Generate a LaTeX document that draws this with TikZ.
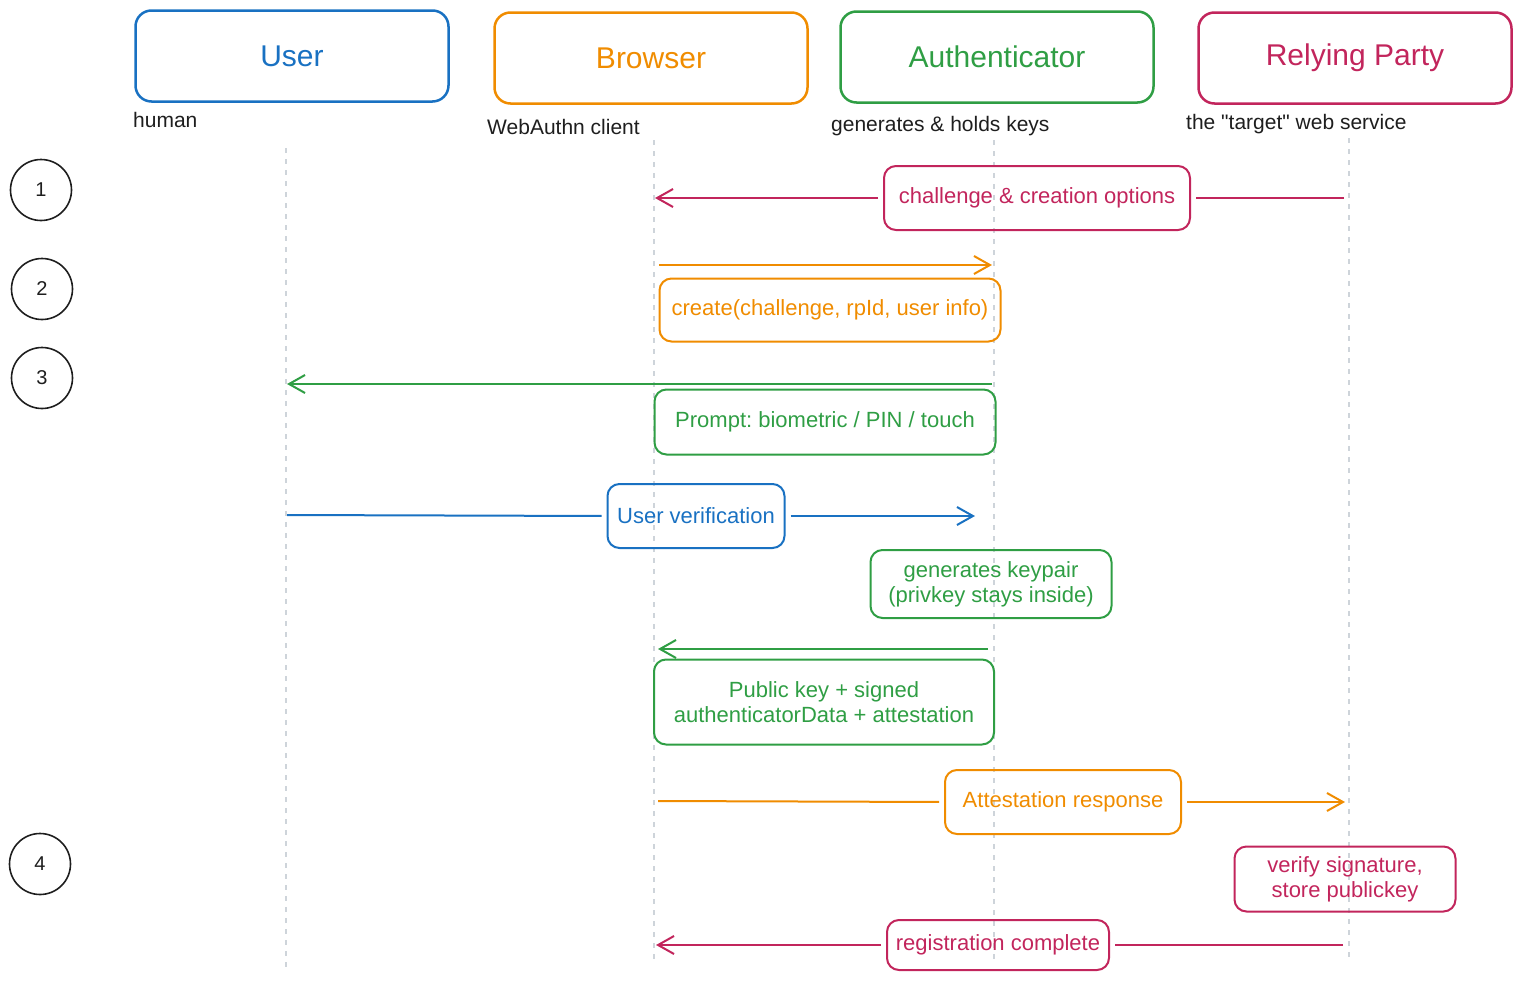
\documentclass[tikz,border=0pt]{standalone}
\usepackage{fontspec}
\setmainfont{Liberation Sans}
\newfontfamily\plainquote{Liberation Sans}
\usepackage{tikz}
\usetikzlibrary{arrows.meta,positioning}
\frenchspacing
\definecolor{userblue}{HTML}{1971C2}
\definecolor{browserorange}{HTML}{F08C00}
\definecolor{authgreen}{HTML}{2F9E44}
\definecolor{rpred}{HTML}{C2255C}
\definecolor{inkblack}{HTML}{1E1E1E}
\definecolor{lifegray}{HTML}{CED4DA}
\tikzstyle{actor} = [draw, line width=2.5pt, rounded corners=16pt, minimum width=313pt, minimum height=91pt, font=\fontsize{30}{34}\selectfont]
\tikzstyle{msgbox} = [draw, line width=2pt, rounded corners=12pt, align=center, inner sep=0pt, font=\fontsize{22}{25}\selectfont]
\tikzstyle{caption} = [anchor=west, inner sep=0pt, text=inkblack, font=\fontsize{21}{24}\selectfont]
\tikzstyle{stepcircle} = [draw=inkblack, circle, line width=1.6pt, minimum size=61pt, inner sep=0pt, text=inkblack, font=\fontsize{20}{22}\selectfont]
\tikzstyle{lifeline} = [draw=lifegray, line width=1.6pt, dash pattern=on 5pt off 6pt]
\tikzstyle{msgline} = [draw, line width=2pt, shorten <=5pt, shorten >=5pt]
\tikzstyle{msgarrow} = [draw, line width=2pt, shorten <=5pt, -{Straight Barb[length=16pt,width=18pt]}]
\newcommand{\actorbox}[3]{node (h#1) [actor, draw=#2, text=#2] {#3}}
\newcommand{\msgnote}[5]{node (#1) [msgbox, draw=#2, text=#2, minimum width=#3, minimum height=#4] {#5}}
\newcommand{\stepno}[1]{node (s#1) [stepcircle] {#1}}
\begin{document}
\begin{tikzpicture}[x=1pt,y=-1pt]
\useasboundingbox (0,0) rectangle (1521,983);
% participants
\path (292,56) \actorbox{u}{userblue}{User};
\path (hu)+(359,2) \actorbox{b}{browserorange}{Browser};
\path (hb)+(346,-1) \actorbox{a}{authgreen}{Authenticator};
\path (ha)+(358,1) \actorbox{r}{rpred}{Relying Party};
\node[caption] (cu) at (133,120) {human};
\node[caption] (cb) at (487,127) {WebAuthn client};
\node[caption] (ca) at (831,126) {generates \& holds keys};
\node[caption] (cr) at (1186,124) {the {\plainquote"}target{\plainquote"} web service};
% lifelines
\coordinate (lu1) at (286,148); \coordinate (lu2) at (286,968);
\coordinate (lb1) at (654,140); \coordinate (lb2) at (654,960);
\coordinate (la1) at (994,140); \coordinate (la2) at (994,960);
\coordinate (lr1) at (1349,138); \coordinate (lr2) at (1349,958);
\path [lifeline] (lu1) -- (lu2);
\path [lifeline] (lb1) -- (lb2);
\path [lifeline] (la1) -- (la2);
\path [lifeline] (lr1) -- (lr2);
% step numbers
\path (41,190) \stepno{1};
\path (42,289) \stepno{2};
\path (42,378) \stepno{3};
\path (40,864) \stepno{4};
% 1: options from the relying party
\path (1037,198) \msgnote{m1}{rpred}{306pt}{64pt}{challenge \& creation options};
\coordinate (r1) at (1349,198); \coordinate (b1) at (655,198);
\path [msgline, draw=rpred] (r1) -- (m1.east);
\path [msgarrow, draw=rpred] (m1.west) -- (b1);
% 2: create()
\coordinate (b2) at (654,265); \coordinate (a2) at (992,265);
\path [msgarrow, draw=browserorange] (b2) -- (a2);
\path (830,310) \msgnote{m2}{browserorange}{341pt}{63pt}{create(challenge, rpId, user info)};
% 3: prompt the user
\coordinate (a3) at (992,384); \coordinate (u3) at (287,384);
\path [msgarrow, draw=authgreen, shorten <=0pt] (a3) -- (u3);
\path (825,422) \msgnote{m3}{authgreen}{341pt}{65pt}{Prompt: biometric / PIN / touch};
% user verification
\path (696,516) \msgnote{m4}{userblue}{177pt}{64pt}{User verification};
\coordinate (u4) at (287,515); \coordinate (a4) at (975,516);
\path [msgline, draw=userblue, shorten <=0pt] (u4) -- (m4.west);
\path [msgarrow, draw=userblue] (m4.east) -- (a4);
\path (991,584) \msgnote{k5}{authgreen}{241pt}{68pt}{generates keypair\\(privkey stays inside)};
% public key back to the browser
\coordinate (a6) at (988,649); \coordinate (b6) at (658,649);
\path [msgarrow, draw=authgreen, shorten <=0pt] (a6) -- (b6);
\path (824,702) \msgnote{m6}{authgreen}{340pt}{85pt}{Public key + signed\\authenticatorData + attestation};
% 4: response to the relying party
\path (1063,802) \msgnote{m7}{browserorange}{236pt}{64pt}{Attestation response};
\coordinate (b7) at (658,801); \coordinate (r7) at (1345,802);
\path [msgline, draw=browserorange, shorten <=0pt] (b7) -- (m7.west);
\path [msgarrow, draw=browserorange] (m7.east) -- (r7);
\path (1345,879) \msgnote{k8}{rpred}{221pt}{65pt}{verify signature,\\store publickey};
\path (998,945) \msgnote{m9}{rpred}{222pt}{50pt}{registration complete};
\coordinate (r9) at (1343,945); \coordinate (b9) at (656,945);
\path [msgline, draw=rpred, shorten <=0pt] (r9) -- (m9.east);
\path [msgarrow, draw=rpred] (m9.west) -- (b9);
\end{tikzpicture}
\end{document}
